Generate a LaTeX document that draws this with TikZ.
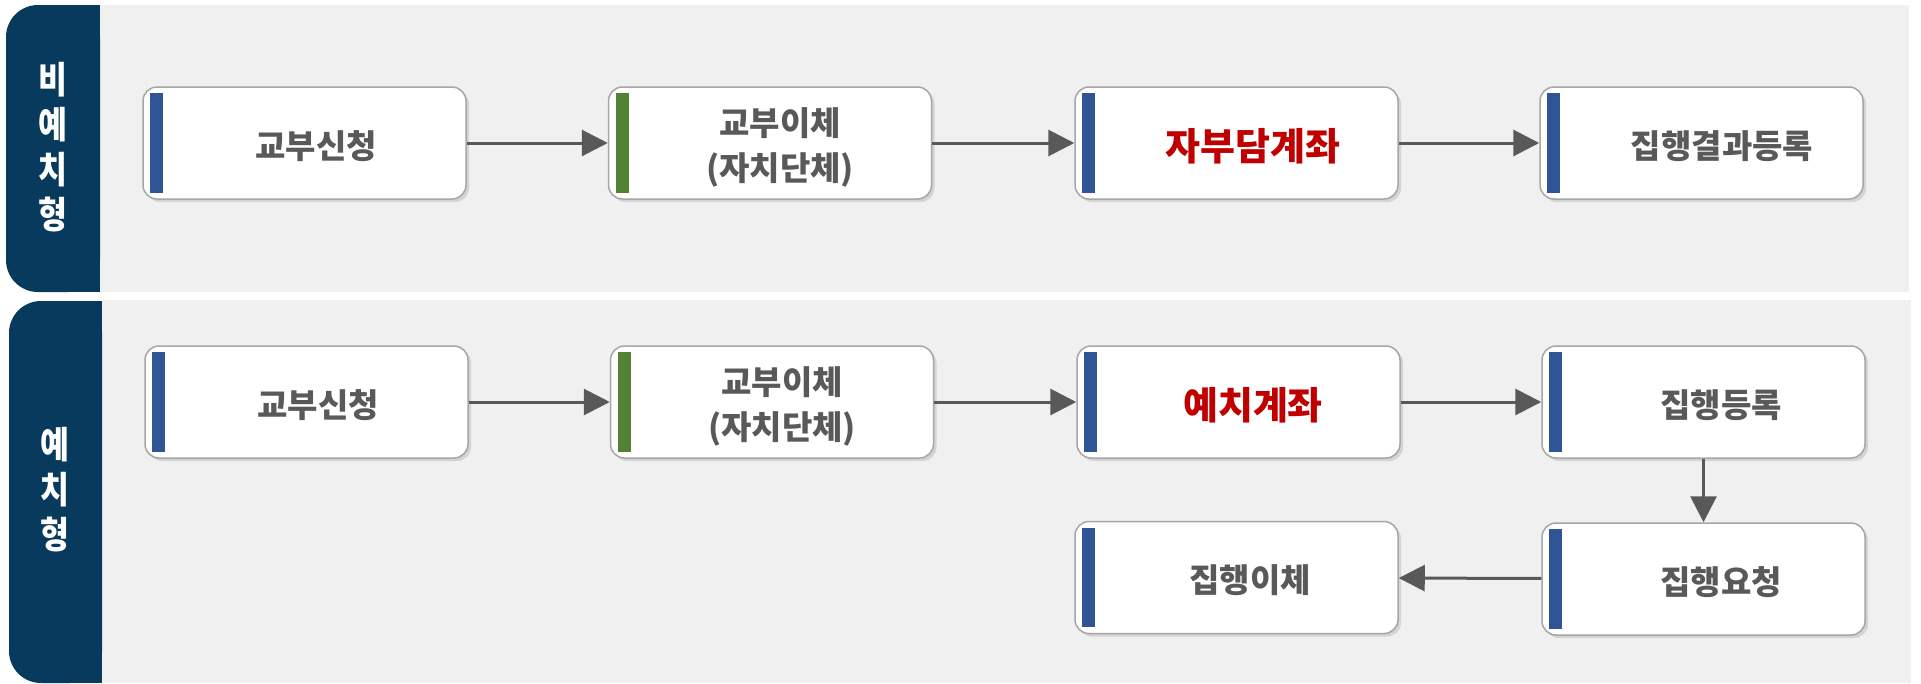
\documentclass[tikz,border=0pt]{standalone}
\usepackage{fontspec}
\setmainfont{Noto Sans CJK KR}
\newfontfamily\sidefont{Noto Sans CJK KR}[FakeStretch=0.85]
\usetikzlibrary{arrows.meta,shadows,calc}
\definecolor{navy}{HTML}{083A5E}
\definecolor{panel}{HTML}{F0F0F0}
\definecolor{txtgray}{HTML}{595959}
\definecolor{txtred}{HTML}{C00000}
\definecolor{barblue}{HTML}{2F5597}
\definecolor{bargreen}{HTML}{548235}
\definecolor{boxline}{HTML}{A6A6A6}
\definecolor{shadowc}{HTML}{D4D4D4}
\definecolor{arrowc}{HTML}{595959}
\tikzset{
  pbox/.style={draw=boxline, line width=1.5pt, fill=white, rounded corners=14pt,
    minimum width=323pt, minimum height=112pt, inner sep=0pt,
    drop shadow={shadow xshift=3pt, shadow yshift=-3pt, fill=shadowc, opacity=1}},
  lbl/.style={text=txtgray, font=\bfseries\fontsize{33}{45}\selectfont, align=center, inner sep=0pt},
  hot/.style={text=txtred, font=\bfseries\fontsize{38}{42}\selectfont, inner sep=0pt},
  side/.style={text=white, font=\sidefont\bfseries\fontsize{37}{45}\selectfont, align=center, inner sep=0pt},
  flow/.style={draw=arrowc, line width=3pt, -{Triangle[length=26pt,width=26pt]}},
}
% name, cx, cy, bar colour, text style, text dx, text dy, text
\newcommand\procbox[8]{%
  \node[pbox] (#1) at (#2,#3) {};
  \fill[#4] ($(#1.north west)+(8,7)$) rectangle ($(#1.south west)+(21,-7)$);
  \node[#5] (#1t) at ($(#1)+(#6,#7)$) {#8};
}
\begin{document}
\begin{tikzpicture}[x=1pt,y=-1pt]
\useasboundingbox (0,0) rectangle (1921,683);
\fill[white] (0,0) rectangle (1921,683);
% panels
\fill[panel] (100,5) rectangle (1909,292);
\fill[panel] (102,300) rectangle (1911,683);
\fill[navy, rounded corners=32pt] (6,5) rectangle (100,292);
\fill[navy] (60,5) rectangle (100,292);
\fill[navy, rounded corners=32pt] (9,301) rectangle (102,683);
\fill[navy] (60,301) rectangle (102,683);
\node[side] (s1) at (53,147) {비\\예\\치\\형};
\node[side] (s2) at (55,490) {예\\치\\형};
% row 1
\procbox{a1}{304.5}{143}{barblue}{lbl}{11.5}{3}{교부신청}
\procbox{a2}{770}{143}{bargreen}{lbl}{10}{4}{교부이체\\(자치단체)}
\procbox{a3}{1236.5}{143}{barblue}{hot}{16.5}{3}{자부담계좌}
\procbox{a4}{1701.5}{143}{barblue}{lbl}{20.5}{3}{집행결과등록}
% row 2
\procbox{b1}{306.5}{402}{barblue}{lbl}{11.5}{3}{교부신청}
\procbox{b2}{772}{402}{bargreen}{lbl}{10}{4}{교부이체\\(자치단체)}
\procbox{b3}{1238.5}{402}{barblue}{hot}{14.5}{3}{예치계좌}
\procbox{b4}{1703.5}{402}{barblue}{lbl}{17.5}{3}{집행등록}
\procbox{b5}{1703.5}{579}{barblue}{lbl}{17.5}{3}{집행요청}
\procbox{b6}{1236.5}{577.5}{barblue}{lbl}{13.5}{3}{집행이체}
% connectors
\draw[flow] (a1) -- (a2);
\draw[flow] (a2) -- (a3);
\draw[flow] (a3) -- (a4);
\draw[flow] (b1) -- (b2);
\draw[flow] (b2) -- (b3);
\draw[flow] (b3) -- (b4);
\draw[flow] (b4) -- (b5);
\draw[flow] (b5) -- (b6);
\end{tikzpicture}
\end{document}
